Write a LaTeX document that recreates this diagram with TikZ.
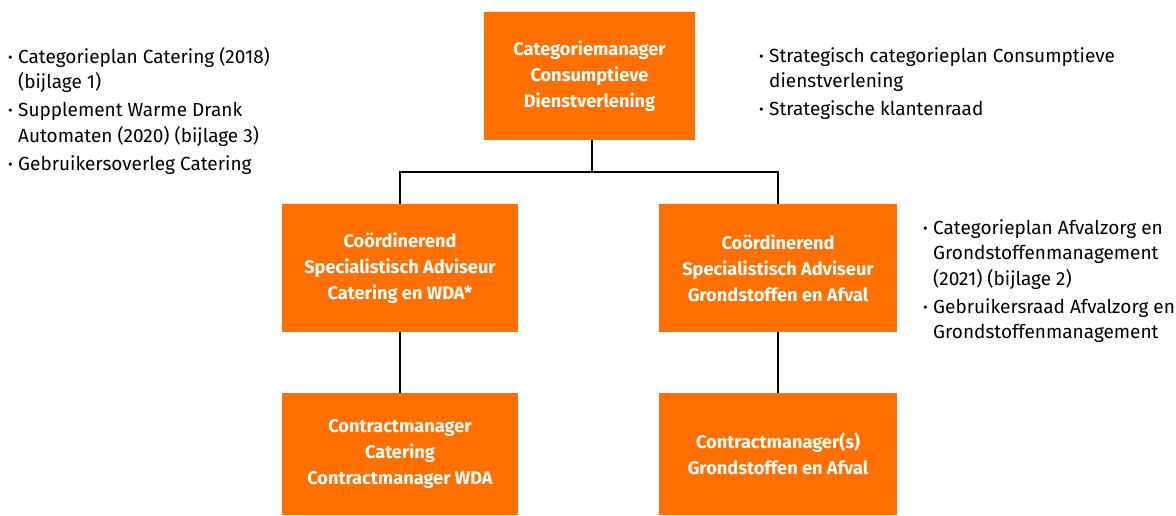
\documentclass[tikz,border=0pt]{standalone}
\usepackage{fontspec}
\setmainfont{Fira Sans}
\usepackage{xcolor}

\definecolor{orgorange}{RGB}{255,112,0}

\tikzset{
	orgbox/.style={fill=orgorange, text=white, align=center, inner sep=0pt,
		font=\fontsize{18.2}{26}\selectfont\bfseries},
	notes/.style={anchor=north west, inner sep=0pt, align=left,
		font=\fontsize{19}{25.5}\selectfont},
	link/.style={line width=2pt, black}
}

\newcommand{\bul}{\makebox[10pt][l]{\raisebox{1pt}{\scalebox{0.75}{\textbullet}}}}

\begin{document}
\begin{tikzpicture}[x=1pt,y=-1pt]
			
			% canvas
			\useasboundingbox (0,0) rectangle (1176,515);
			
			% Organisation boxes
			\node[orgbox, minimum width=211pt, minimum height=128pt] (catman) at (589.5,76)
				{Categoriemanager\\Consumptieve\\Dienstverlening};
			\node[orgbox, minimum width=236pt, minimum height=128pt] (advcat) at (400,268)
				{Coördinerend\\Specialistisch Adviseur\\Catering en WDA*};
			\node[orgbox, minimum width=238pt, minimum height=128pt] (advgrond) at (778,268)
				{Coördinerend\\Specialistisch Adviseur\\Grondstoffen en Afval};
			\node[orgbox, minimum width=236pt, minimum height=122pt] (concat) at (400,454)
				{Contractmanager\\Catering\\Contractmanager WDA};
			\node[orgbox, minimum width=238pt, minimum height=122pt] (congrond) at (778,454)
				{Contractmanager(s)\\Grondstoffen en Afval};
			
			% Connecting lines
			\coordinate (split) at (592,172);
			\draw[link] (catman.south -| split) -- (split);
			\draw[link] (advcat.north) -- (advcat.north |- split) -- (advgrond.north |- split) -- (advgrond.north);
			\draw[link] (advcat.south) -- (concat.north);
			\draw[link] (advgrond.south) -- (congrond.north);
			
			% Documents and overleg
			\node[notes] (notecat) at (8,47) {%
				\bul Categorieplan Catering (2018)\\
				\hspace*{10pt}(bijlage 1)\\[2.5pt]
				\bul Supplement Warme Drank\\
				\hspace*{10pt}Automaten (2020) (bijlage 3)\\[2.5pt]
				\bul Gebruikersoverleg Catering};
			\node[notes] (notestrat) at (759,47) {%
				\bul Strategisch categorieplan Consumptieve\\
				\hspace*{10pt}dienstverlening\\[2.5pt]
				\bul Strategische klantenraad};
			\node[notes] (notegrond) at (923,219) {%
				\bul Categorieplan Afvalzorg en\\
				\hspace*{10pt}Grondstoffenmanagement\\
				\hspace*{10pt}(2021) (bijlage 2)\\[2.5pt]
				\bul Gebruikersraad Afvalzorg en\\
				\hspace*{10pt}Grondstoffenmanagement};
		\end{tikzpicture}
\end{document}
